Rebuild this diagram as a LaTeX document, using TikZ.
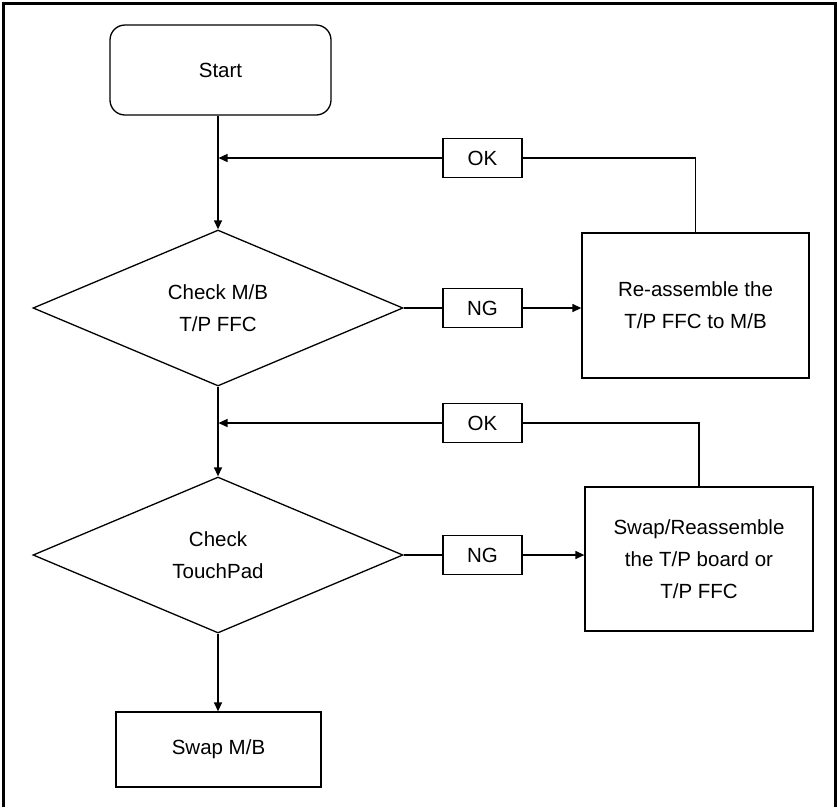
\documentclass[tikz,border=0pt]{standalone}
\usepackage{fontspec}
\setmainfont{Liberation Sans}
\usetikzlibrary{shapes.geometric,arrows.meta}
\begin{document}
\begin{tikzpicture}[x=1pt,y=-1pt, line width=1.3pt,
  base/.style={draw, align=center, inner sep=0pt, font=\fontsize{20.5}{32}\selectfont},
  procbox/.style={base, rectangle},
  tag/.style={base, rectangle, minimum width=79pt, minimum height=39pt},
  decision/.style={base, diamond, minimum width=370pt, minimum height=156pt},
  arr/.style={-{Triangle[length=9pt,width=8pt]}}]
\useasboundingbox (0,0) rectangle (837,807);
\draw[line width=3pt] (3.5,807) -- (3.5,3.5) -- (835.5,3.5) -- (835.5,807);

\node[procbox, rounded corners=15pt, minimum width=221pt, minimum height=90pt] (start) at (220.5,70) {Start};
\node[decision] (d1) at (218,308) {Check M/B\\T/P FFC};
\node[tag] (ng1) at (482.5,308) {NG};
\node[tag] (ok1) at (482.5,158) {OK};
\node[procbox, minimum width=227pt, minimum height=145pt] (r1) at (695.5,305.5) {Re-assemble the\\T/P FFC to M/B};
\node[decision] (d2) at (218,555) {Check\\TouchPad};
\node[tag] (ok2) at (482.5,423) {OK};
\node[tag] (ng2) at (482.5,555) {NG};
\node[procbox, minimum width=228pt, minimum height=144pt] (r2) at (699,559) {Swap/Reassemble\\the T/P board or\\T/P FFC};
\node[procbox, minimum width=205pt, minimum height=75pt] (swap) at (218.5,749.5) {Swap M/B};

\draw[arr] (d1.north |- start.south) -- (d1.north);
\draw (r1.north) |- (ok1.east);
\draw[arr, shorten >=0.5pt] (ok1.west) -- (ok1.west -| d1.north);
\draw (d1.east) -- (ng1.west);
\draw[arr] (ng1.east) -- (ng1.east -| r1.west);

\draw[arr] (d1.south) -- (d2.north);
\draw (r2.north) |- (ok2.east);
\draw[arr, shorten >=0.5pt] (ok2.west) -- (ok2.west -| d2.north);
\draw (d2.east) -- (ng2.west);
\draw[arr] (ng2.east) -- (ng2.east -| r2.west);

\draw[arr] (d2.south) -- (d2.south |- swap.north);
\end{tikzpicture}
\end{document}
